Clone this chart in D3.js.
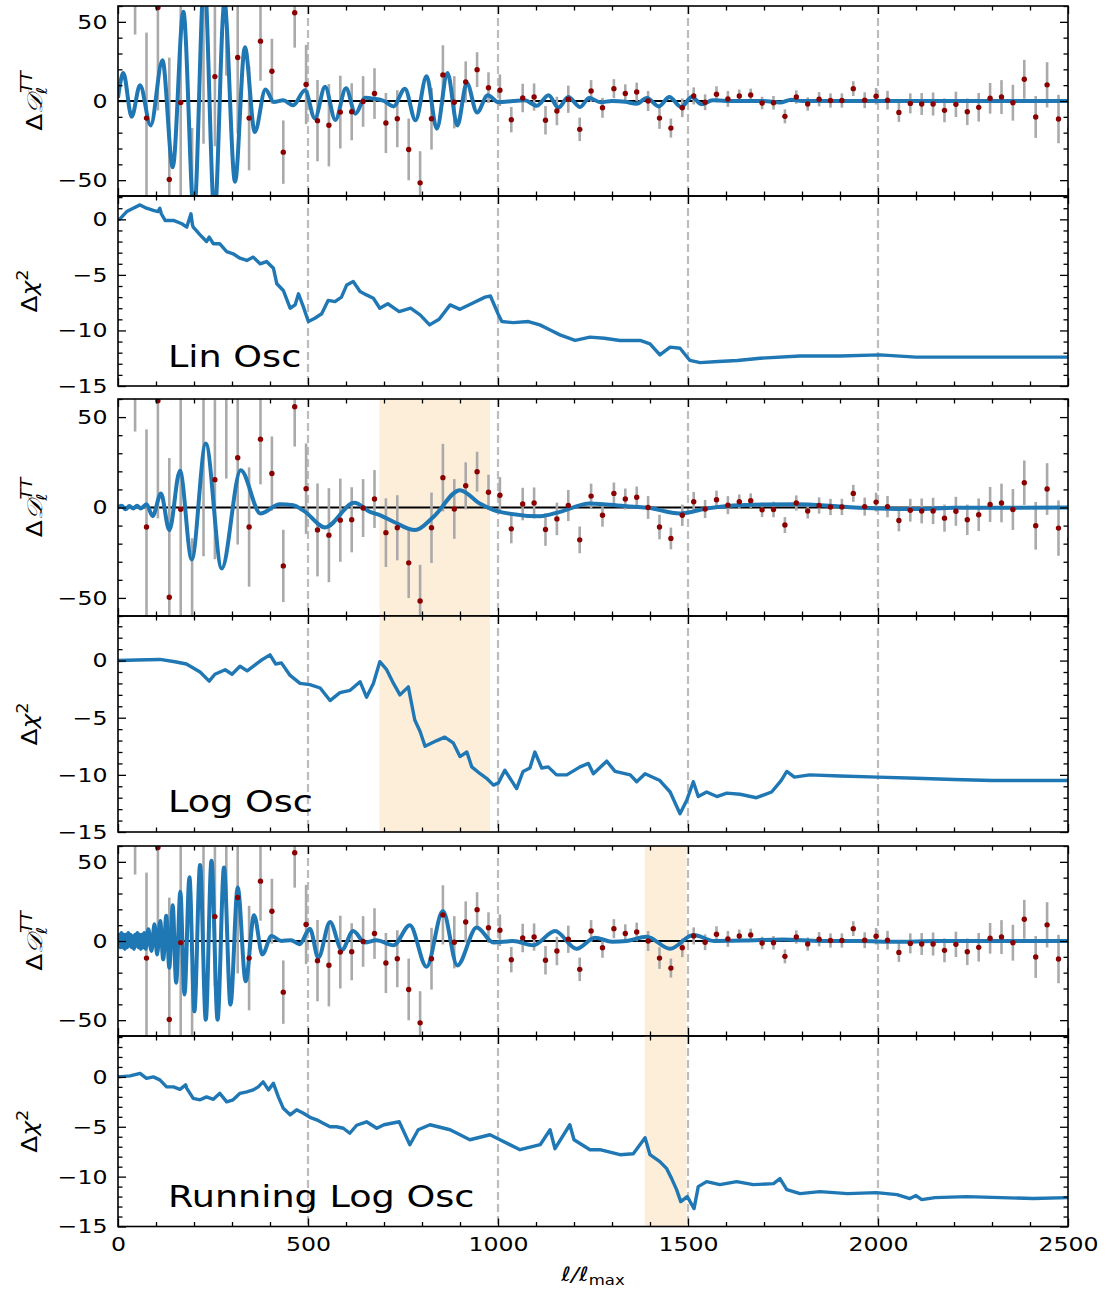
<!DOCTYPE html>
<html>
<head>
<meta charset="utf-8">
<script src="https://cdn.jsdelivr.net/npm/d3@7"></script>
<style>
  body { margin: 0; background: #fff; }
  text { font-family: "DejaVu Sans", sans-serif; }
</style>
</head>
<body>
<div id="chart"></div>
<script>
// binned residuals (same in every ΔD panel)
const binEll = [45,75,105,135,165,195,225,255,285,315,345,375,405,435,465,495,525,555,585,615,645,675,705,735,765,795,825,855,885,915,945,975,1005,1035,1065,1095,1125,1155,1185,1215,1245,1275,1305,1335,1365,1395,1425,1455,1485,1515,1545,1575,1605,1635,1665,1695,1725,1755,1785,1815,1845,1875,1905,1935,1965,1995,2025,2055,2085,2115,2145,2175,2205,2235,2265,2295,2325,2355,2385,2415,2445,2475,2505];
const binVal = [90,-10.8,59,-49.6,-1,-85,65,15.4,70,27.5,-10.8,37.8,18.8,-32.3,55.7,10.4,-12.4,-15.3,-7,-6.8,-0.3,4.7,-13.9,-11.2,-30.6,-51.7,-11.2,16.5,-0.8,12,19.8,8.4,6.8,-11.8,1.9,2.5,-12.2,-6.3,1.1,-17.9,6.3,-4.3,7.8,4.7,5.7,0,-10.8,-17.1,-4.3,3.2,-0.8,4.3,1.3,3.2,3.8,-1.3,-1.1,-9.7,2.5,-1.9,1.1,0.3,0.3,7.8,0.5,3,0.5,-7.2,-1.5,-1.9,-1.9,-5.9,-2.1,-6.8,-4,1.7,2.5,-1.1,13.7,-10.1,10.2,-11.4,-17.7];
const binErr = [48,54,65,77,70,68,92,44,54,48,33,25,20.5,20,22,25,25.7,26,23,18,16,16,19,18,19.5,20,19.5,18.7,16.5,13,11,9.7,10,8,9,8.6,9,9,8.6,7.4,6.9,6.3,6,5.8,5.9,6.3,6.8,6,5.9,5.4,5,5,5,4,4,4,4.3,4.4,4.2,4.2,4.5,4.5,4.5,4.7,5,5.2,5.9,6,6.3,6.9,7.3,7.5,8,8.4,9,9.7,10.7,11.3,12.3,13.2,14.3,15.3,16];

// model residual curves [ell, ΔD]
const linOscD = [[0,2],[5,10],[14,17.7],[36,-10],[58,10],[86,-15.4],[117,25.7],[144,-41.8],[172,56.3],[200,-72],[227,78],[254,-72],[280,62],[308,-51],[334,34],[360,-19.6],[388,7.2],[410,-0.6],[435,0.4],[461,-2.7],[492,6.8],[518,-11],[545,9],[572,-12],[600,8],[625,-8],[650,2],[672,1.5],[700,0],[725,-3.4],[755,7.8],[783,-12.2],[812,15.6],[839,-17.5],[867,17.7],[893,-15.4],[918,11.4],[945,-7.2],[973,3.6],[1001,-0.8],[1040,0],[1070,0.5],[1102,-3],[1133,3.6],[1159,-4.2],[1185,2.5],[1216,-3.8],[1240,1.9],[1270,-0.8],[1300,0],[1335,-0.5],[1365,-1.7],[1392,1.9],[1423,-3.4],[1451,2.5],[1482,-3.8],[1510,2.5],[1536,-2.1],[1565,0.5],[1600,0],[1700,0],[1742,-1],[1772,0.8],[1800,0],[2500,0]];
const logOscD = [[0,0],[10,1],[20,-1],[30,0.8],[40,-0.5],[50,1],[60,-0.5],[75,1.8],[91,-4.8],[113,7.7],[135,-12.5],[163,20.3],[194,-28.7],[231,35.4],[273,-33.7],[323,20.6],[375,-3.3],[426,1.8],[461,1.3],[490,-2],[545,-11],[622,2.6],[663,-2.4],[689,-4.2],[725,-7.9],[782,-12.5],[830,-5.2],[900,9.6],[952,2.2],[1005,-2.4],[1111,-4.8],[1163,-2.4],[1242,2.2],[1339,0.7],[1391,0],[1479,-3.3],[1549,-0.6],[1637,1.3],[1786,1.8],[1900,0.5],[2000,-0.5],[2100,-0.8],[2200,-0.2],[2500,0]];
const runLogOscD = [[0,-3],[3,4],[6,-4],[9,5],[12,-4],[15,4],[18,-5],[21,4],[24,-4],[27,5],[30,-3],[33,4],[36,-4],[39,3],[42,-5],[45,4],[48,-3],[51,5],[54,-4],[57,4],[60,-5],[63,4],[66,-4],[69,5],[73,-5],[80,7.4],[88,-6.3],[96,10.6],[103,-8.5],[111,12.7],[119,-11.6],[127,15.9],[135,-16.9],[144,22.6],[153,-26.4],[164,31.1],[175,-33.8],[188,40.2],[201,-44.4],[216,48],[231,-49.7],[246,50.7],[262,-49.7],[279,46.5],[296,-40.2],[315,33.8],[336,-25.4],[358,16.3],[380,-8.5],[404,3.2],[430,0],[455,0.5],[478,-2],[505,7.8],[527,-10.6],[558,12],[589,-5.7],[619,6.3],[650,-1],[680,0.5],[725,-2.7],[768,9.9],[812,-16.3],[855,19],[893,-15.4],[944,8.5],[988,-1],[1040,0],[1093,-2.7],[1150,6.3],[1207,-4.9],[1255,2.1],[1300,-0.5],[1339,0],[1391,2.7],[1453,-4.9],[1514,3.8],[1570,0],[1650,0.3],[1750,1],[1850,0],[1950,0],[2050,-0.5],[2150,0],[2500,0]];

// cumulative Δχ² [ell, Δχ²]
const linOscChi2 = [[0,0],[4,0],[23,0.7],[40,1.0],[58,1.3],[75,1.0],[93,0.8],[105,0.7],[110,1.0],[114,0.5],[124,-0.1],[146,-0.1],[168,-0.4],[181,-0.7],[192,0.5],[196,-0.5],[198,-0.7],[216,-1.4],[233,-2.0],[240,-1.6],[251,-2.2],[268,-2.2],[286,-2.9],[303,-3.1],[321,-3.5],[339,-3.7],[356,-3.4],[374,-4.0],[391,-3.8],[409,-4.4],[418,-5.8],[435,-6.4],[453,-8.0],[466,-7.7],[475,-6.7],[488,-7.9],[501,-9.2],[518,-8.9],[536,-8.5],[553,-7.3],[571,-7.4],[588,-7.0],[602,-5.9],[619,-5.6],[637,-6.5],[654,-6.8],[672,-7.1],[689,-8.0],[710,-7.6],[740,-8.3],[770,-8.0],[795,-8.6],[820,-9.5],[845,-9.0],[874,-7.7],[900,-8.1],[930,-7.6],[966,-7.0],[980,-6.9],[1000,-8.5],[1010,-9.2],[1040,-9.3],[1080,-9.2],[1110,-9.5],[1140,-10.0],[1163,-10.4],[1203,-10.9],[1242,-10.6],[1280,-10.7],[1321,-10.9],[1374,-10.9],[1400,-11.2],[1426,-12.2],[1453,-11.5],[1479,-11.6],[1505,-12.7],[1532,-12.9],[1580,-12.8],[1630,-12.7],[1690,-12.5],[1795,-12.3],[1900,-12.3],[2005,-12.2],[2100,-12.4],[2200,-12.4],[2300,-12.4],[2500,-12.4]];
const logOscChi2 = [[0,0],[50,0.05],[110,0.1],[150,-0.1],[180,-0.3],[216,-1.0],[240,-1.8],[255,-1.2],[282,-0.8],[300,-1.2],[321,-0.5],[340,-0.9],[360,-0.4],[380,0.1],[400,0.5],[415,-0.3],[430,-0.2],[453,-1.3],[479,-2.0],[505,-2.1],[532,-2.4],[558,-3.5],[584,-2.8],[611,-2.6],[637,-1.85],[654,-3.2],[672,-2.0],[689,-0.1],[707,-0.8],[725,-2.0],[742,-3.0],[764,-2.3],[781,-5.2],[795,-6.2],[808,-7.5],[839,-7.0],[860,-6.7],[882,-7.2],[900,-8.4],[918,-8.0],[931,-9.3],[953,-9.9],[970,-10.3],[988,-10.9],[1001,-10.7],[1018,-9.6],[1049,-11.2],[1066,-9.7],[1084,-9.4],[1097,-8.0],[1115,-9.4],[1132,-9.3],[1154,-10.0],[1181,-10.0],[1216,-9.3],[1238,-9.0],[1251,-9.9],[1286,-8.8],[1308,-9.7],[1348,-10.0],[1365,-10.6],[1387,-9.9],[1426,-10.5],[1453,-11.5],[1479,-13.4],[1497,-12.2],[1514,-10.6],[1527,-11.9],[1549,-11.5],[1576,-11.9],[1602,-11.6],[1637,-11.7],[1680,-12.0],[1720,-11.5],[1745,-10.5],[1760,-9.7],[1780,-10.2],[1820,-10.0],[1900,-10.1],[2000,-10.2],[2100,-10.3],[2200,-10.4],[2300,-10.5],[2500,-10.5]];
const runLogOscChi2 = [[0,0],[32,0.1],[58,0.35],[75,-0.15],[93,0],[110,-0.3],[128,-1.0],[146,-1.0],[163,-1.25],[178,-0.8],[181,-1.15],[198,-2.15],[216,-2.3],[233,-2.0],[251,-2.25],[268,-1.65],[286,-2.5],[303,-2.3],[321,-1.65],[339,-1.5],[356,-1.3],[369,-1.0],[382,-0.5],[396,-1.3],[409,-0.65],[422,-2.0],[435,-3.15],[453,-3.8],[470,-3.3],[488,-3.65],[505,-4.05],[523,-4.3],[540,-4.65],[558,-5.0],[575,-5.0],[593,-5.15],[610,-5.65],[628,-4.85],[654,-4.5],[681,-5.15],[700,-4.8],[740,-4.5],[768,-6.8],[790,-5.3],[821,-4.8],[874,-5.3],[926,-6.3],[979,-5.8],[1005,-6.3],[1058,-7.3],[1111,-6.8],[1137,-5.3],[1150,-7.2],[1189,-4.8],[1200,-6.3],[1242,-7.3],[1268,-7.3],[1321,-7.8],[1356,-7.7],[1387,-6.1],[1400,-7.8],[1426,-8.5],[1444,-9.2],[1457,-10.2],[1470,-11.3],[1481,-12.5],[1498,-12.0],[1516,-13.2],[1527,-11.0],[1549,-10.5],[1584,-10.8],[1628,-10.5],[1672,-10.8],[1725,-10.7],[1742,-10.2],[1760,-11.3],[1795,-11.7],[1847,-11.5],[1920,-11.7],[1996,-11.6],[2050,-11.8],[2084,-12.2],[2100,-11.9],[2115,-12.3],[2150,-12.1],[2233,-12.0],[2409,-12.2],[2500,-12.1]];

// ticks, guide lines and highlighted ranges
const xTicks = [0, 500, 1000, 1500, 2000, 2500];
const dTicks = [-50, 0, 50];
const chiTicks = [-15, -10, -5, 0];
const guideEll = [500, 1000, 1500, 2000];
const logOscBand = [688, 979];
const runLogOscBand = [1386, 1496];

const W = 1115, H = 1291;
const blue = '#1f77b4';
const sx = 1.18; // text in the reference is a bit wide

const svg = d3.select('#chart').append('svg')
    .attr('width', W).attr('height', H);

const x = d3.scaleLinear().domain([0, 2500]).range([118, 1068]);

const panels = [
    {kind: 'd',   top: 6,   bottom: 196,    domain: [-60, 60],   curve: linOscD},
    {kind: 'chi', top: 196, bottom: 386,    domain: [-15, 2.1],  curve: linOscChi2, name: 'Lin Osc', nameY: 367},
    {kind: 'd',   top: 399, bottom: 616,    domain: [-60, 60],   curve: logOscD, band: logOscBand},
    {kind: 'chi', top: 616, bottom: 832,    domain: [-15, 3.9],  curve: logOscChi2, band: logOscBand, name: 'Log Osc', nameY: 812},
    {kind: 'd',   top: 846, bottom: 1036,   domain: [-60, 60],   curve: runLogOscD, band: runLogOscBand},
    {kind: 'chi', top: 1036, bottom: 1226.5, domain: [-15, 4.1], curve: runLogOscChi2, band: runLogOscBand, name: 'Running Log Osc', nameY: 1207, xLabels: true}
];

const bins = binEll.map((l, i) => ({l, v: binVal[i], e: binErr[i]}));

function styleAxis(g, labels) {
    g.select('.domain').remove();
    g.selectAll('line').attr('stroke', '#000').attr('stroke-width', 1.3);
    g.selectAll('text')
        .attr('font-size', 20).attr('font-family', '"DejaVu Sans", sans-serif')
        .attr('fill', '#000')
        .attr('transform', `scale(${sx},1)`);
    if (!labels) g.selectAll('text').remove();
}

panels.forEach((p, i) => {
    const y = d3.scaleLinear().domain(p.domain).range([p.bottom, p.top]);
    const clipId = 'clip' + i;
    svg.append('clipPath').attr('id', clipId).append('rect')
        .attr('x', x(0)).attr('y', p.top)
        .attr('width', x(2500) - x(0)).attr('height', p.bottom - p.top);

    const plot = svg.append('g').attr('clip-path', `url(#${clipId})`);

    if (p.band) {
        plot.append('rect')
            .attr('x', x(p.band[0])).attr('y', p.top)
            .attr('width', x(p.band[1]) - x(p.band[0]))
            .attr('height', p.bottom - p.top)
            .attr('fill', '#fdeeda');
    }

    plot.selectAll('line.guide').data(guideEll).join('line')
        .attr('class', 'guide')
        .attr('x1', d => x(d)).attr('x2', d => x(d))
        .attr('y1', p.top).attr('y2', p.bottom)
        .attr('stroke', '#bdbdbd').attr('stroke-width', 2.2)
        .attr('stroke-dasharray', '8,4');

    const line = d3.line().x(d => x(d[0])).y(d => y(d[1]));

    if (p.kind === 'd') {
        plot.append('line')
            .attr('x1', x(0)).attr('x2', x(2500))
            .attr('y1', y(0)).attr('y2', y(0))
            .attr('stroke', '#000').attr('stroke-width', 1.8);

        plot.selectAll('line.err').data(bins).join('line')
            .attr('class', 'err')
            .attr('x1', d => x(d.l)).attr('x2', d => x(d.l))
            .attr('y1', d => y(d.v - d.e)).attr('y2', d => y(d.v + d.e))
            .attr('stroke', '#aaaaaa').attr('stroke-width', 2.6);

        plot.append('path').datum(p.curve)
            .attr('d', line.curve(d3.curveMonotoneX))
            .attr('fill', 'none').attr('stroke', blue).attr('stroke-width', 4)
            .attr('stroke-linejoin', 'round');

        plot.selectAll('circle.pt').data(bins).join('circle')
            .attr('class', 'pt')
            .attr('cx', d => x(d.l)).attr('cy', d => y(d.v))
            .attr('r', 2.7).attr('fill', '#8b0000');
    } else {
        plot.append('path').datum(p.curve)
            .attr('d', line.curve(d3.curveLinear))
            .attr('fill', 'none').attr('stroke', blue).attr('stroke-width', 3.4)
            .attr('stroke-linejoin', 'round');
    }

    // axes, ticks pointing inward on all four sides
    const majorY = p.kind === 'd' ? dTicks : chiTicks;
    const minorY = p.kind === 'd'
        ? d3.range(-60, 61, 10).filter(v => !majorY.includes(v))
        : d3.range(-15, Math.floor(p.domain[1]) + 1, 1).filter(v => !majorY.includes(v));
    const minorX = d3.range(0, 2501, 100).filter(v => !xTicks.includes(v));
    const fmt = d3.format('d');

    svg.append('g').attr('transform', `translate(${x(0)},0)`)
        .call(d3.axisLeft(y).tickValues(majorY).tickFormat(fmt).tickSize(-8).tickPadding(9))
        .call(g => styleAxis(g, true));
    svg.append('g').attr('transform', `translate(${x(0)},0)`)
        .call(d3.axisLeft(y).tickValues(minorY).tickSize(-4.5))
        .call(g => styleAxis(g, false));
    svg.append('g').attr('transform', `translate(${x(2500)},0)`)
        .call(d3.axisRight(y).tickValues(majorY).tickSize(-8))
        .call(g => styleAxis(g, false));
    svg.append('g').attr('transform', `translate(${x(2500)},0)`)
        .call(d3.axisRight(y).tickValues(minorY).tickSize(-4.5))
        .call(g => styleAxis(g, false));
    svg.append('g').attr('transform', `translate(0,${p.top})`)
        .call(d3.axisTop(x).tickValues(xTicks).tickSize(-8))
        .call(g => styleAxis(g, false));
    svg.append('g').attr('transform', `translate(0,${p.top})`)
        .call(d3.axisTop(x).tickValues(minorX).tickSize(-4.5))
        .call(g => styleAxis(g, false));
    svg.append('g').attr('transform', `translate(0,${p.bottom})`)
        .call(d3.axisBottom(x).tickValues(xTicks).tickFormat(fmt).tickSize(-8).tickPadding(10))
        .call(g => styleAxis(g, !!p.xLabels));
    svg.append('g').attr('transform', `translate(0,${p.bottom})`)
        .call(d3.axisBottom(x).tickValues(minorX).tickSize(-4.5))
        .call(g => styleAxis(g, false));

    svg.append('rect')
        .attr('x', x(0)).attr('y', p.top)
        .attr('width', x(2500) - x(0)).attr('height', p.bottom - p.top)
        .attr('fill', 'none').attr('stroke', '#000').attr('stroke-width', 1.6);

    // y label
    const cy = (p.top + p.bottom) / 2;
    if (p.kind === 'd') {
        const t = svg.append('text')
            .attr('transform', `translate(42,${cy}) rotate(-90) scale(${sx},1)`)
            .attr('text-anchor', 'middle').attr('font-size', 21);
        t.append('tspan').text('Δ');
        t.append('tspan').attr('font-family', '"DejaVu Serif", serif').attr('font-style', 'italic').text('𝒟');
        t.append('tspan').attr('font-size', 15).attr('font-style', 'italic').attr('dy', 5).text('ℓ');
        t.append('tspan').attr('font-size', 15).attr('font-style', 'italic').attr('dx', -5).attr('dy', -15).text('TT');
    } else {
        const t = svg.append('text')
            .attr('transform', `translate(37,${cy}) rotate(-90) scale(${sx},1)`)
            .attr('text-anchor', 'middle').attr('font-size', 21);
        t.append('tspan').text('Δ');
        t.append('tspan').attr('font-style', 'italic').text('χ');
        t.append('tspan').attr('font-size', 15).attr('dy', -9).text('2');
    }

    if (p.name) {
        svg.append('text')
            .attr('transform', `translate(168,${p.nameY}) scale(${sx},1)`)
            .attr('font-size', 31).text(p.name);
    }
});

// x label
const xl = svg.append('text')
    .attr('transform', `translate(${x(1250)},1281) scale(${sx},1)`)
    .attr('text-anchor', 'middle').attr('font-size', 20);
xl.append('tspan').attr('font-style', 'italic').text('ℓ/ℓ');
xl.append('tspan').attr('font-size', 14).attr('dy', 4).text('max');
</script>
</body>
</html>
